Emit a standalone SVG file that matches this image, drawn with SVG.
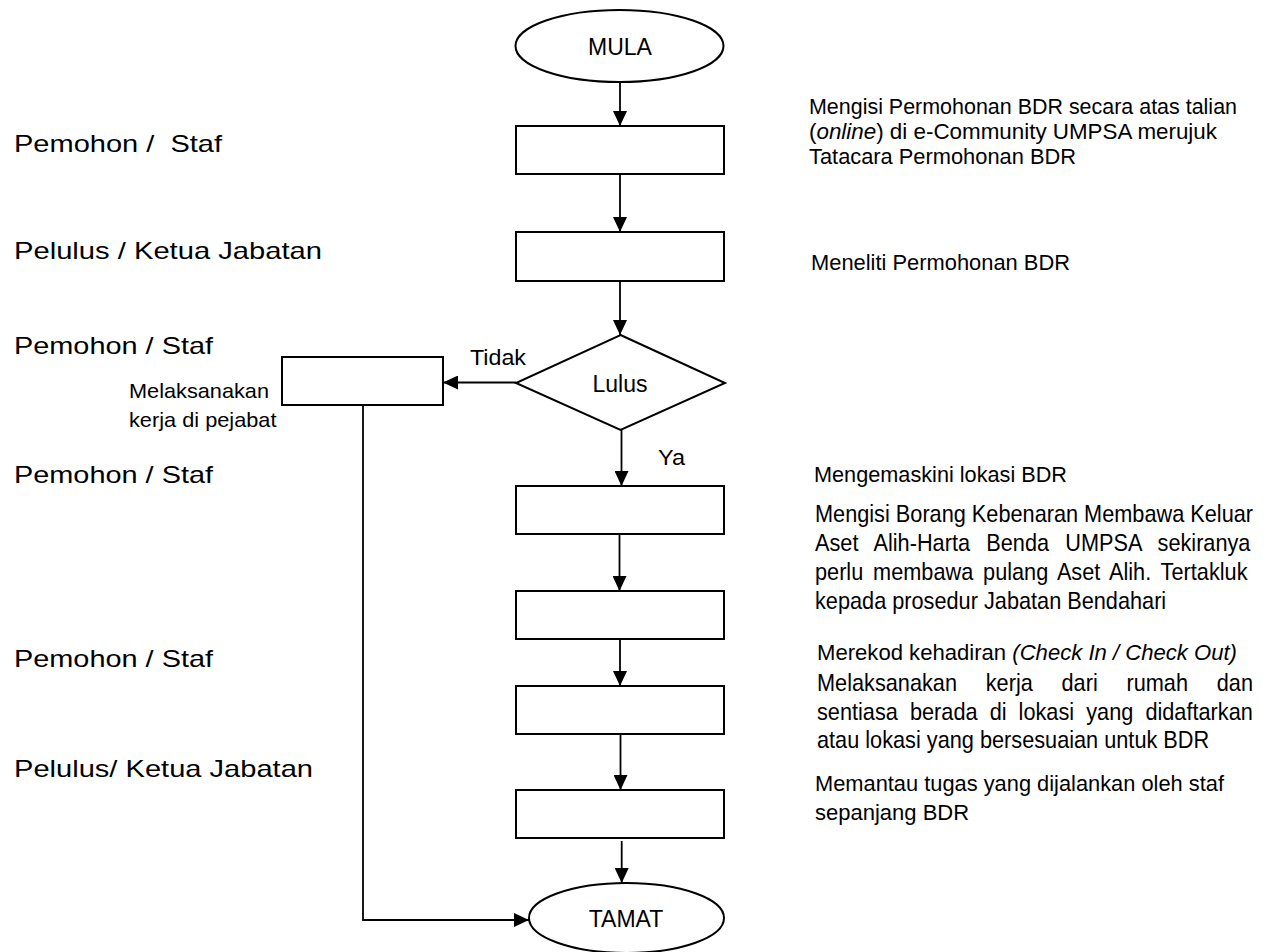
<svg xmlns="http://www.w3.org/2000/svg" width="1271" height="952" viewBox="0 0 1271 952">
<style>
text{font-family:"Liberation Sans",Arial,sans-serif;fill:#000}
.shape{fill:#fff;stroke:#000;stroke-width:2}
.lbl{font-size:24px}
.note{font-size:22px}
.big{font-size:24px}
.cen{text-anchor:middle;font-size:23px}
.conn{fill:none;stroke:#000;stroke-width:1.8}
</style>
<defs>
<marker id="arr" markerUnits="userSpaceOnUse" markerWidth="16" markerHeight="14" refX="15" refY="7" orient="auto">
<path d="M0,0 L15,7 L0,14 Z" fill="#000"/>
</marker>
</defs>
<rect width="1271" height="952" fill="#fff"/>

<g id="roles">
<text class="lbl" x="14" y="151.5" textLength="208" lengthAdjust="spacingAndGlyphs" style="white-space:pre">Pemohon /  Staf</text>
<text class="lbl" x="14" y="259" textLength="308" lengthAdjust="spacingAndGlyphs">Pelulus / Ketua Jabatan</text>
<text class="lbl" x="14" y="354.3" textLength="199" lengthAdjust="spacingAndGlyphs">Pemohon / Staf</text>
<text class="lbl" x="14" y="483.3" textLength="199" lengthAdjust="spacingAndGlyphs">Pemohon / Staf</text>
<text class="lbl" x="14" y="666.7" textLength="199" lengthAdjust="spacingAndGlyphs">Pemohon / Staf</text>
<text class="lbl" x="14" y="776.7" textLength="299" lengthAdjust="spacingAndGlyphs">Pelulus/ Ketua Jabatan</text>
</g>

<g id="connectors">
<line class="conn" x1="620" y1="82" x2="620" y2="126" marker-end="url(#arr)"/>
<line class="conn" x1="620" y1="174" x2="620" y2="232" marker-end="url(#arr)"/>
<line class="conn" x1="620" y1="281" x2="620" y2="335" marker-end="url(#arr)"/>
<line class="conn" x1="516" y1="382.5" x2="443" y2="382.5" marker-end="url(#arr)"/>
<line class="conn" x1="621.5" y1="430" x2="621.5" y2="486" marker-end="url(#arr)"/>
<line class="conn" x1="619.5" y1="534" x2="619.5" y2="591" marker-end="url(#arr)"/>
<line class="conn" x1="620" y1="639" x2="620" y2="686" marker-end="url(#arr)"/>
<line class="conn" x1="620.5" y1="734" x2="620.5" y2="790" marker-end="url(#arr)"/>
<line class="conn" x1="621.7" y1="841" x2="621.7" y2="883" marker-end="url(#arr)"/>
<polyline class="conn" points="363,405 363,920 529,920" marker-end="url(#arr)"/>
<text class="note" x="470" y="365" textLength="56" lengthAdjust="spacingAndGlyphs">Tidak</text>
<text class="note" x="658" y="465" textLength="27" lengthAdjust="spacingAndGlyphs">Ya</text>
</g>

<g id="mula">
<ellipse class="shape" cx="619.5" cy="46" rx="104" ry="36"/>
<text class="cen" x="620" y="55">MULA</text>
</g>
<g id="box1"><rect class="shape" x="516" y="126" width="208" height="48"/></g>
<g id="box2"><rect class="shape" x="516" y="232" width="208" height="49"/></g>
<g id="lulus">
<polygon class="shape" points="620.5,335 725,383 620.5,430 516,383"/>
<text class="cen" x="620" y="391.5">Lulus</text>
</g>
<g id="box-pejabat">
<rect class="shape" x="282" y="357" width="161" height="48"/>
<text style="font-size:21px" x="129" y="398.3" textLength="140" lengthAdjust="spacingAndGlyphs">Melaksanakan</text>
<text style="font-size:21px" x="129" y="427.3" textLength="147.5" lengthAdjust="spacingAndGlyphs">kerja di pejabat</text>
</g>
<g id="box3"><rect class="shape" x="516" y="486" width="208" height="48"/></g>
<g id="box4"><rect class="shape" x="516" y="591" width="208" height="48"/></g>
<g id="box5"><rect class="shape" x="516" y="686" width="208" height="48"/></g>
<g id="box6"><rect class="shape" x="516" y="790" width="208" height="48"/></g>
<g id="tamat">
<ellipse class="shape" cx="626.5" cy="918" rx="97.5" ry="35"/>
<text class="cen" x="626" y="927.3">TAMAT</text>
</g>

<g id="notes">
<text class="note" x="809" y="114.3" textLength="428" lengthAdjust="spacingAndGlyphs">Mengisi Permohonan BDR secara atas talian</text>
<text class="note" x="809" y="139" textLength="408" lengthAdjust="spacingAndGlyphs">(<tspan font-style="italic">online</tspan>) di e-Community UMPSA merujuk</text>
<text class="note" x="809" y="163.7" textLength="267" lengthAdjust="spacingAndGlyphs">Tatacara Permohonan BDR</text>

<text class="note" x="811" y="270" textLength="259" lengthAdjust="spacingAndGlyphs">Meneliti Permohonan BDR</text>

<text class="note" x="814" y="481.7" textLength="253" lengthAdjust="spacingAndGlyphs">Mengemaskini lokasi BDR</text>
<g transform="translate(815,0) scale(0.905,1)">
<text class="big" x="0" y="521.7">Mengisi Borang Kebenaran Membawa Keluar</text>
<text class="big" x="0" y="551" word-spacing="11.3">Aset Alih-Harta Benda UMPSA sekiranya</text>
<text class="big" x="0" y="580.3" word-spacing="4.2">perlu membawa pulang Aset Alih. Tertakluk</text>
<text class="big" x="0" y="609.3">kepada prosedur Jabatan Bendahari</text>
</g>

<text class="note" x="817" y="660" textLength="420" lengthAdjust="spacingAndGlyphs">Merekod kehadiran <tspan font-style="italic">(Check In / Check Out)</tspan></text>
<g transform="translate(817,0) scale(0.905,1)">
<text class="big" x="0" y="690.7" word-spacing="25.1">Melaksanakan kerja dari rumah dan</text>
<text class="big" x="0" y="720" word-spacing="6.7">sentiasa berada di lokasi yang didaftarkan</text>
<text class="big" x="0" y="748.3">atau lokasi yang bersesuaian untuk BDR</text>
</g>

<text class="note" x="815" y="791" textLength="409" lengthAdjust="spacingAndGlyphs">Memantau tugas yang dijalankan oleh staf</text>
<text class="note" x="815" y="820">sepanjang BDR</text>
</g>
</svg>
